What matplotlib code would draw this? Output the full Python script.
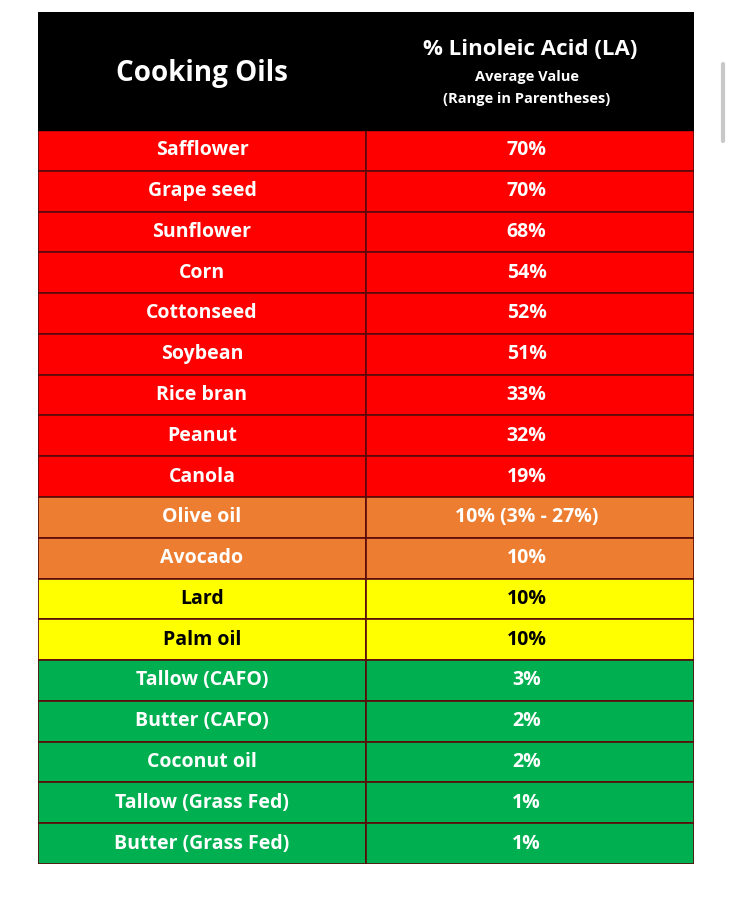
import matplotlib
matplotlib.use("Agg")
import matplotlib.pyplot as plt
from matplotlib.lines import Line2D

oils = ["Safflower", "Grape seed", "Sunflower", "Corn", "Cottonseed", "Soybean",
        "Rice bran", "Peanut", "Canola", "Olive oil", "Avocado", "Lard", "Palm oil",
        "Tallow (CAFO)", "Butter (CAFO)", "Coconut oil", "Tallow (Grass Fed)", "Butter (Grass Fed)"]
values = ["70%", "70%", "68%", "54%", "52%", "51%", "33%", "32%", "19%",
          "10% (3% - 27%)", "10%", "10%", "10%", "3%", "2%", "2%", "1%", "1%"]
tiers = ["red"] * 9 + ["orange"] * 2 + ["yellow"] * 2 + ["green"] * 5
header_left = "Cooking Oils"
header_right = ["% Linoleic Acid (LA)", "Average Value", "(Range in Parentheses)"]

tier_color = {"red": "#fe0000", "orange": "#ed7d31", "yellow": "#ffff00", "green": "#00b050"}
tier_text = {"red": "white", "orange": "white", "yellow": "black", "green": "white"}

plt.rcParams['font.family'] = ['Open Sans', 'DejaVu Sans']
fig = plt.figure(figsize=(7.32, 9.0), dpi=100)
fig.patch.set_facecolor("white")
ax = fig.add_axes([38/732, 36/900, 656/732, 852/900])
n = len(oils)
hdr = 118/40.78
ax.set_xlim(0, 1)
ax.set_ylim(n, -hdr)
ax.axis("off")

ys = list(range(n))
cols = [tier_color[t] for t in tiers]
ax.barh(ys, [0.5]*n, left=0, height=1, align="edge", color=cols, edgecolor="#5a0a0a", linewidth=1.2)
ax.barh(ys, [0.5]*n, left=0.5, height=1, align="edge", color=cols, edgecolor="#5a0a0a", linewidth=1.2)
ax.barh([-hdr], [1], left=0, height=hdr, align="edge", color="black", edgecolor="black")

for i, (o, v, t) in enumerate(zip(oils, values, tiers)):
    c = tier_text[t]
    ax.text(0.25, i + 0.5, o, ha="center", va="center", color=c, fontsize=14, fontweight="bold")
    ax.text(0.745, i + 0.5, v, ha="center", va="center", color=c, fontsize=14, fontweight="bold")

ax.text(0.25, -hdr/2 + 0.05, header_left, ha="center", va="center", color="white", fontsize=20, fontweight="bold")
ax.text(0.75, -hdr + 38/40.78, header_right[0], ha="center", va="center", color="white", fontsize=16, fontweight="bold")
ax.text(0.745, -hdr + 65/40.78, header_right[1], ha="center", va="center", color="white", fontsize=10.5, fontweight="bold")
ax.text(0.745, -hdr + 87/40.78, header_right[2], ha="center", va="center", color="white", fontsize=10.5, fontweight="bold")

fig.add_artist(Line2D([723/732, 723/732], [1 - 64/900, 1 - 141/900], color="#c8c8c8",
                      linewidth=3, solid_capstyle="round", transform=fig.transFigure))
fig.savefig("out.png", dpi=100, facecolor="white")
